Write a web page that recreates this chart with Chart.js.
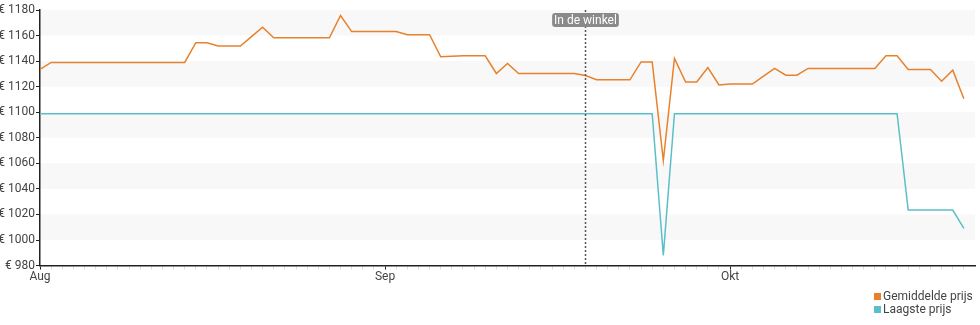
<!DOCTYPE html>
<html>
<head>
<meta charset="utf-8">
<script src="https://cdn.jsdelivr.net/npm/chart.js@4/dist/chart.umd.min.js"></script>
<style>
    html, body { margin: 0; padding: 0; background: #fff; }
    .wrap { position: relative; width: 980px; height: 325px; }
    #legend {
        position: absolute; left: 874px; top: 290px;
        font: 12px Roboto, sans-serif; color: #444; line-height: 13px;
    }
    #legend .item { display: flex; align-items: center; white-space: nowrap; }
    #legend .box { width: 7px; height: 7px; margin-right: 2px; }
</style>
</head>
<body>
<div class="wrap">
    <canvas id="chart" width="980" height="325"></canvas>
    <div id="legend"></div>
</div>
<script>
// one point per day index, starting at the left edge of the axis
const avgPrice = [
    1133.5, 1139, 1139, 1139, 1139, 1139, 1139, 1139, 1139, 1139,
    1139, 1139, 1139, 1139, 1154.4, 1154.4, 1151.8, 1151.8, 1151.8, 1159.2,
    1166.5, 1158.3, 1158.3, 1158.3, 1158.3, 1158.3, 1158.3, 1175.7, 1163.1, 1163.1,
    1163.1, 1163.1, 1163.1, 1160.7, 1160.7, 1160.7, 1143.4, 1143.8, 1144.2, 1144.2,
    1144.2, 1130.3, 1138.2, 1130.3, 1130.3, 1130.3, 1130.3, 1130.3, 1130.3, 1128.7,
    1125.4, 1125.4, 1125.4, 1125.4, 1139.4, 1139.4, 1062.2, 1142.1, 1123.7, 1123.7,
    1135, 1121.3, 1122.1, 1122.1, 1122.1, 1128.2, 1134.3, 1129, 1129, 1134.3,
    1134.3, 1134.3, 1134.3, 1134.3, 1134.3, 1134.3, 1144.2, 1144.2, 1133.5, 1133.5,
    1133.5, 1124.3, 1132.9, 1110.6
];
const lowPrice = [
    1098.8, 1098.8, 1098.8, 1098.8, 1098.8, 1098.8, 1098.8, 1098.8, 1098.8, 1098.8,
    1098.8, 1098.8, 1098.8, 1098.8, 1098.8, 1098.8, 1098.8, 1098.8, 1098.8, 1098.8,
    1098.8, 1098.8, 1098.8, 1098.8, 1098.8, 1098.8, 1098.8, 1098.8, 1098.8, 1098.8,
    1098.8, 1098.8, 1098.8, 1098.8, 1098.8, 1098.8, 1098.8, 1098.8, 1098.8, 1098.8,
    1098.8, 1098.8, 1098.8, 1098.8, 1098.8, 1098.8, 1098.8, 1098.8, 1098.8, 1098.8,
    1098.8, 1098.8, 1098.8, 1098.8, 1098.8, 1098.8, 988, 1098.8, 1098.8, 1098.8,
    1098.8, 1098.8, 1098.8, 1098.8, 1098.8, 1098.8, 1098.8, 1098.8, 1098.8, 1098.8,
    1098.8, 1098.8, 1098.8, 1098.8, 1098.8, 1098.8, 1098.8, 1098.8, 1023.5, 1023.5,
    1023.5, 1023.5, 1023.5, 1009.1
];
const monthTicks = [0, 31, 62];
const monthLabels = ['Aug', 'Sep', 'Okt'];
const storeDay = 49;
const storeLabel = 'In de winkel';
const seriesNames = ['Gemiddelde prijs', 'Laagste prijs'];
const seriesColors = ['#e8812c', '#5cbfc8'];

const FONT = 'Roboto, sans-serif';
const TEXT = '#444';

const toPoints = arr => arr.map((v, i) => ({ x: i, y: v }));

// alternating horizontal bands between y ticks
const bandsPlugin = {
    id: 'bands',
    beforeDraw(chart) {
        const { ctx, chartArea: a, scales: { y } } = chart;
        ctx.save();
        ctx.fillStyle = '#f8f8f8';
        y.ticks.forEach((t, i) => {
            if (i % 2 === 1 && i < y.ticks.length - 1) {
                const top = y.getPixelForValue(y.ticks[i + 1].value);
                const bot = y.getPixelForValue(t.value);
                ctx.fillRect(a.left, top, a.right - a.left, bot - top);
            }
        });
        ctx.restore();
    }
};

// dotted marker line with a small label box
const markerPlugin = {
    id: 'marker',
    afterDatasetsDraw(chart) {
        const { ctx, chartArea: a, scales: { x } } = chart;
        const px = Math.round(x.getPixelForValue(storeDay)) + 0.5;
        ctx.save();
        ctx.strokeStyle = '#555';
        ctx.lineWidth = 1.5;
        ctx.setLineDash([2, 2]);
        ctx.beginPath();
        ctx.moveTo(px, a.top);
        ctx.lineTo(px, a.bottom);
        ctx.stroke();
        ctx.setLineDash([]);

        ctx.font = '12px ' + FONT;
        const w = ctx.measureText(storeLabel).width + 4;
        const h = 14;
        const bx = px - w / 2, by = a.top + 3;
        ctx.fillStyle = '#8a8a8a';
        ctx.beginPath();
        ctx.roundRect(bx, by, w, h, 3);
        ctx.fill();
        ctx.fillStyle = '#fff';
        ctx.textAlign = 'center';
        ctx.textBaseline = 'middle';
        ctx.fillText(storeLabel, px, by + h / 2 + 0.5);
        ctx.restore();
    }
};

new Chart(document.getElementById('chart'), {
    type: 'line',
    data: {
        datasets: [avgPrice, lowPrice].map((arr, i) => ({
            label: seriesNames[i],
            data: toPoints(arr),
            borderColor: seriesColors[i],
            backgroundColor: seriesColors[i],
            borderWidth: 1.5,
            pointRadius: 0,
            tension: 0,
            fill: false
        }))
    },
    options: {
        responsive: false,
        animation: false,
        layout: { padding: { top: 10, right: 5, bottom: 41, left: 0 } },
        plugins: {
            legend: { display: false },
            tooltip: { enabled: false }
        },
        scales: {
            x: {
                type: 'linear',
                min: 0,
                max: 84,
                afterBuildTicks: s => {
                    s.ticks = [];
                    for (let i = 0; i <= 83; i++) s.ticks.push({ value: i });
                },
                border: { color: '#222', width: 1.5 },
                grid: {
                    drawOnChartArea: false,
                    tickLength: 4,
                    tickColor: c => monthTicks.includes(c.tick.value) ? '#222' : '#ddd'
                },
                ticks: {
                    autoSkip: false,
                    maxRotation: 0,
                    padding: 0,
                    color: TEXT,
                    font: { family: FONT, size: 12 },
                    callback: v => {
                        const k = monthTicks.indexOf(v);
                        return k >= 0 ? monthLabels[k] : '';
                    }
                }
            },
            y: {
                min: 980,
                max: 1180,
                afterFit: s => { s.width = 40; },
                border: { color: '#222', width: 1.5 },
                grid: { drawOnChartArea: false, tickLength: 4, tickColor: '#222' },
                ticks: {
                    stepSize: 20,
                    padding: 1,
                    color: TEXT,
                    font: { family: FONT, size: 12 },
                    callback: v => '€ ' + v
                }
            }
        }
    },
    plugins: [bandsPlugin, markerPlugin]
});

document.getElementById('legend').innerHTML = seriesNames.map((n, i) => `
    <div class="item"><span class="box" style="background:${seriesColors[i]}"></span>${n}</div>
`).join('');
</script>
</body>
</html>
